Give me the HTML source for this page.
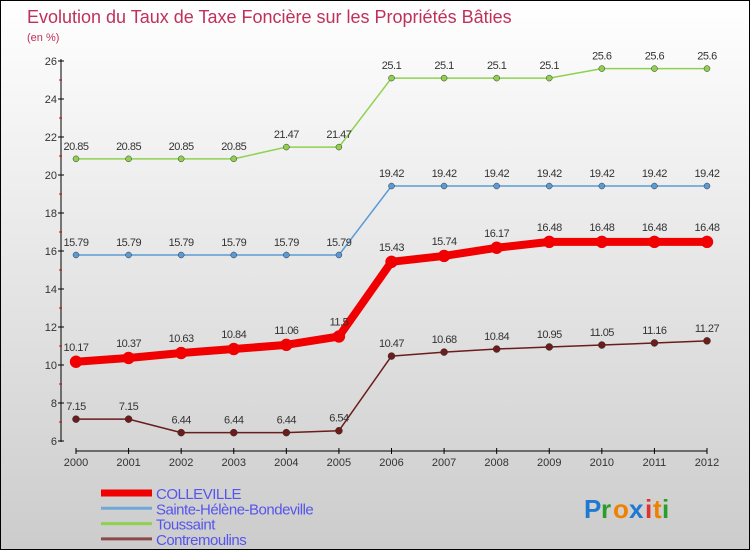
<!DOCTYPE html>
<html><head><meta charset="utf-8"><style>
body{margin:0}
#c{width:750px;height:550px;position:relative;box-sizing:border-box;border:1px solid #000;background:linear-gradient(#fff,#ccc);font-family:"Liberation Sans",sans-serif;overflow:hidden}
</style></head><body>
<div id="c">
<svg id="s" width="748" height="548" style="position:absolute;left:0;top:0"></svg>
</div>
<script>
const years=[2000,2001,2002,2003,2004,2005,2006,2007,2008,2009,2010,2011,2012];
const yTicks=[6,8,10,12,14,16,18,20,22,24,26];
const colleville=[10.17,10.37,10.63,10.84,11.06,11.5,15.43,15.74,16.17,16.48,16.48,16.48,16.48];
const sainteHelene=[15.79,15.79,15.79,15.79,15.79,15.79,19.42,19.42,19.42,19.42,19.42,19.42,19.42];
const toussaint=[20.85,20.85,20.85,20.85,21.47,21.47,25.1,25.1,25.1,25.1,25.6,25.6,25.6];
const contremoulins=[7.15,7.15,6.44,6.44,6.44,6.54,10.47,10.68,10.84,10.95,11.05,11.16,11.27];
const seriesNames=["COLLEVILLE","Sainte-Hélène-Bondeville","Toussaint","Contremoulins"];
const NS="http://www.w3.org/2000/svg",s=document.getElementById('s');
const X=i=>75+i*(631/12), Y=v=>60+(26-v)*19;
function el(t,a,p){const e=document.createElementNS(NS,t);for(const k in a)e.setAttribute(k,a[k]);(p||s).appendChild(e);return e;}
function txt(x,y,str,a){const e=el('text',Object.assign({x:x,y:y},a));e.textContent=str;return e;}
let t=txt(26,22,"Evolution du Taux de Taxe Foncière sur les Propriétés Bâties",{fill:"#c0305a","font-size":18});

t=txt(26,40,"(en %)",{fill:"#c0305a","font-size":11});

let a=el('line',{x1:60,y1:58,x2:60,y2:441,stroke:"#000"});

yTicks.forEach((v,i)=>{el('line',{x1:57,x2:63,y1:Y(v),y2:Y(v),stroke:"#000"});
 if(i<yTicks.length-1)el('line',{x1:58,x2:61,y1:Y(v+1),y2:Y(v+1),stroke:"#d00"});
 const l=txt(56,Y(v)+4,v,{"font-size":11,fill:"#333","text-anchor":"end"});
 });
a=el('line',{x1:75,y1:450,x2:706,y2:450,stroke:"#000"});

years.forEach((y,i)=>{el('line',{x1:X(i),x2:X(i),y1:447,y2:453,stroke:"#000"});
 const l=txt(X(i),465,y,{"font-size":11,fill:"#333","text-anchor":"middle"});
 });
function series(d,col,w,r,name,lab,labOff){
 const g=el('g',{});
 el('polyline',{points:d.map((v,i)=>X(i)+','+Y(v)).join(' '),fill:'none',stroke:col,"stroke-width":w,"stroke-linejoin":"round"},g);
 d.forEach((v,i)=>{const c=el('circle',{cx:X(i),cy:Y(v),r:r,fill:col,stroke:w>3?col:'#333',"stroke-width":0.5},g);
  
  const l=txt(X(i),Y(v)-labOff,v,{"font-size":11,fill:"#333","text-anchor":"middle","letter-spacing":"-0.5"},g);
  });
}
series(toussaint,'#8fd14f',1.5,3,'toussaint-series',1,9);
series(sainteHelene,'#5b9bd5',1.5,3,'sainte-helene-series',1,9);
series(contremoulins,'#6b1c1c',1.5,3.5,'contremoulins-series',1,9);
series(colleville,'#f00000',8,6,'colleville-series',1,11);
const legCols=['#f00000','#6fa7d6','#8fd14f','#8b4a4a'],legW=[7,3,3,3];
seriesNames.forEach((n,i)=>{const y=492+i*15.3;
 const g=el('g',{});
 el('line',{x1:100,x2:151,y1:y,y2:y,stroke:legCols[i],"stroke-width":legW[i]},g);
 txt(155,y+6,n,{"font-size":15,fill:"#5555ee","letter-spacing":"-0.5"},g);});
const pc=['#1f78d1','#e03030','#f08000','#1f78d1','#f08000','#2a9d2a'],pl="Proxiti";
const pg=el('g',{});
let px=583;["P","r","o","x","i","t","i"].forEach((ch,i)=>{txt(px,517,ch,{"font-size":26,"font-weight":"bold",fill:['#1f78d1','#2a9d2a','#f08000','#1f78d1','#e03030','#f08000','#2a9d2a'][i]},pg);px+=[17,12,16,16,8,9,8][i];});
</script>
</body></html>
